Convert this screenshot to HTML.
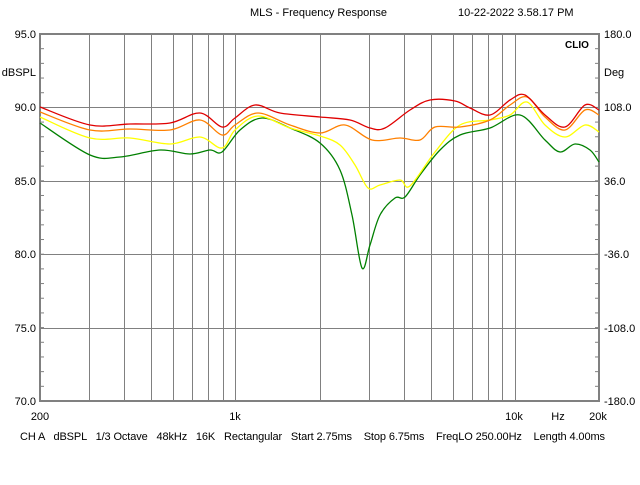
<!DOCTYPE html>
<html><head><style>
body{margin:0;background:#fff;}
svg text{font-family:"Liberation Sans",sans-serif;font-size:11px;fill:#000;}
</style></head><body>
<svg id="s" width="640" height="480" xmlns="http://www.w3.org/2000/svg">
<rect width="640" height="480" fill="#fff"/>
<g id="grid" stroke="#808080" stroke-width="1"></g>
<rect x="40" y="34" width="559" height="367" fill="none" stroke="#808080" stroke-width="2"/>
<g id="curves" fill="none" stroke-width="1.3" stroke-linejoin="round"></g>
<text x="250" y="16">MLS - Frequency Response</text>
<text x="458" y="16">10-22-2022 3.58.17 PM</text>
<text x="565" y="48" font-weight="bold" style="font-size:10px">CLIO</text>
<text x="36" y="38" text-anchor="end">95.0</text>
<text x="36" y="76" text-anchor="end">dBSPL</text>
<text x="36" y="111" text-anchor="end">90.0</text>
<text x="36" y="185" text-anchor="end">85.0</text>
<text x="36" y="258" text-anchor="end">80.0</text>
<text x="36" y="332" text-anchor="end">75.0</text>
<text x="36" y="405" text-anchor="end">70.0</text>
<text x="604" y="38">180.0</text>
<text x="604" y="76">Deg</text>
<text x="604" y="111">108.0</text>
<text x="604" y="185">36.0</text>
<text x="604" y="258">-36.0</text>
<text x="604" y="332">-108.0</text>
<text x="604" y="405">-180.0</text>
<text x="40" y="420" text-anchor="middle">200</text>
<text x="235" y="420" text-anchor="middle">1k</text>
<text x="514" y="420" text-anchor="middle">10k</text>
<text x="558" y="420" text-anchor="middle">Hz</text>
<text x="598" y="420" text-anchor="middle">20k</text>
<text x="20" y="440" textLength="585" lengthAdjust="spacing" xml:space="preserve">CH A   dBSPL   1/3 Octave   48kHz   16K   Rectangular   Start 2.75ms    Stop 6.75ms    FreqLO 250.00Hz    Length 4.00ms</text>
</svg>
<script>
var ns="http://www.w3.org/2000/svg",g=document.getElementById("grid"),c=document.getElementById("curves");
function ln(x1,y1,x2,y2,p){var l=document.createElementNS(ns,"line");l.setAttribute("x1",x1);l.setAttribute("y1",y1);l.setAttribute("x2",x2);l.setAttribute("y2",y2);p.appendChild(l);}
function fx(f){return 40+Math.log10(f/200)*279.5;}
[300,400,500,600,700,800,900,1000,2000,3000,4000,5000,6000,7000,8000,9000,10000].forEach(function(f){var x=Math.round(fx(f))+0.5;ln(x,34,x,401,g);});
[90,85,80,75].forEach(function(d){var y=Math.round(34+(95-d)*14.68)+0.5;ln(40,y,599,y,g);});
for(var d=95;d>=70;d--){var y=34+(95-d)*14.68;ln(40,y,44,y,g);ln(595,y,599,y,g);}
function path(pts,col){var d="M"+pts[0][0]+","+pts[0][1];for(var i=0;i<pts.length-1;i++){var p0=pts[i-1]||pts[i],p1=pts[i],p2=pts[i+1],p3=pts[i+2]||p2;
d+=" C"+(p1[0]+(p2[0]-p0[0])/6)+","+(p1[1]+(p2[1]-p0[1])/6)+" "+(p2[0]-(p3[0]-p1[0])/6)+","+(p2[1]-(p3[1]-p1[1])/6)+" "+p2[0]+","+p2[1];}
var p=document.createElementNS(ns,"path");p.setAttribute("d",d);p.setAttribute("stroke",col);c.appendChild(p);}
path([[40,123],[90,155],[120,157],[160,150],[190,154],[210,150],[222,152],[240,130],[262,118],[290,128],[320,143],[340,170],[352,215],[362,268],[370,245],[380,215],[395,198],[405,197],[420,175],[440,150],[460,135],[490,128],[520,115],[545,140],[560,152],[575,144],[590,150],[599,162]],"#008000");
path([[40,117],[90,138],[130,138],[170,144],[200,137],[222,148],[235,130],[258,116],[290,128],[320,136],[340,145],[355,165],[368,188],[380,185],[400,180],[410,186],[435,152],[460,125],[490,120],[510,115],[527,102],[545,125],[565,137],[585,125],[599,132]],"#ffff00");
path([[40,112],[90,130],[130,129],[170,130],[200,120],[222,135],[235,125],[258,113],[290,125],[320,133],[345,125],[372,140],[400,138],[420,140],[435,127],[460,127],[490,120],[510,105],[527,97],[545,117],[565,130],[585,110],[599,115]],"#ff8000");
path([[40,107],[90,125],[130,124],[170,123],[200,113],[222,127],[235,118],[255,105],[280,113],[320,117],[350,120],[370,128],[385,128],[410,110],[430,100],[455,101],[470,108],[490,115],[510,100],[525,95],[545,115],[565,127],[585,105],[599,110]],"#e00000");
</script>
</body></html>
